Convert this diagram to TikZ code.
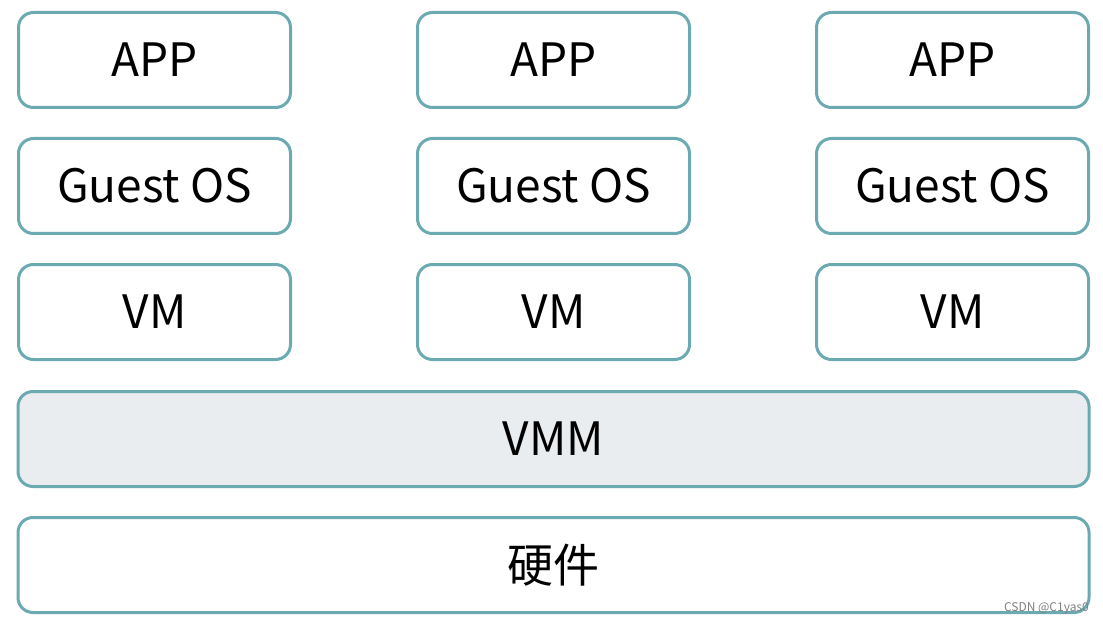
\documentclass[tikz,border=0pt]{standalone}
\usepackage{fontspec}
\setmainfont{Noto Sans CJK SC}
\definecolor{layerline}{HTML}{6AAAB0}
\definecolor{layerfill}{HTML}{E9EDF0}
\tikzset{
  layer/.style={draw=layerline, line width=3pt, rounded corners=15pt,
    fill=white, minimum height=95pt, inner sep=0pt, outer sep=0pt,
    font=\fontsize{46}{52}\selectfont},
  vmbox/.style={layer, minimum width=272pt},
  widebox/.style={layer, minimum width=1071pt}
}
\begin{document}
\begin{tikzpicture}[x=1pt, y=1pt]
        \useasboundingbox (0,0) rectangle (1103,625);
        % three guest stacks
        \foreach \i/\x in {1/154.5, 2/553.5, 3/952.5} {
          \node[vmbox] (app\i) at (\x, 565) {APP};
          \node[vmbox] (os\i) at (\x, 439) {Guest OS};
          \node[vmbox] (vm\i) at (\x, 313) {VM};
        }
        % shared layers
        \node[widebox, fill=layerfill] (vmm) at (553.5, 186) {VMM};
        \node[widebox] (hw) at (553.5, 60) {硬件};
        % watermark
        \node[anchor=east, text=gray, inner sep=0pt, font=\fontsize{12}{14}\selectfont] (mark) at (1089, 17) {CSDN @C1yas0};
\end{tikzpicture}
\end{document}
